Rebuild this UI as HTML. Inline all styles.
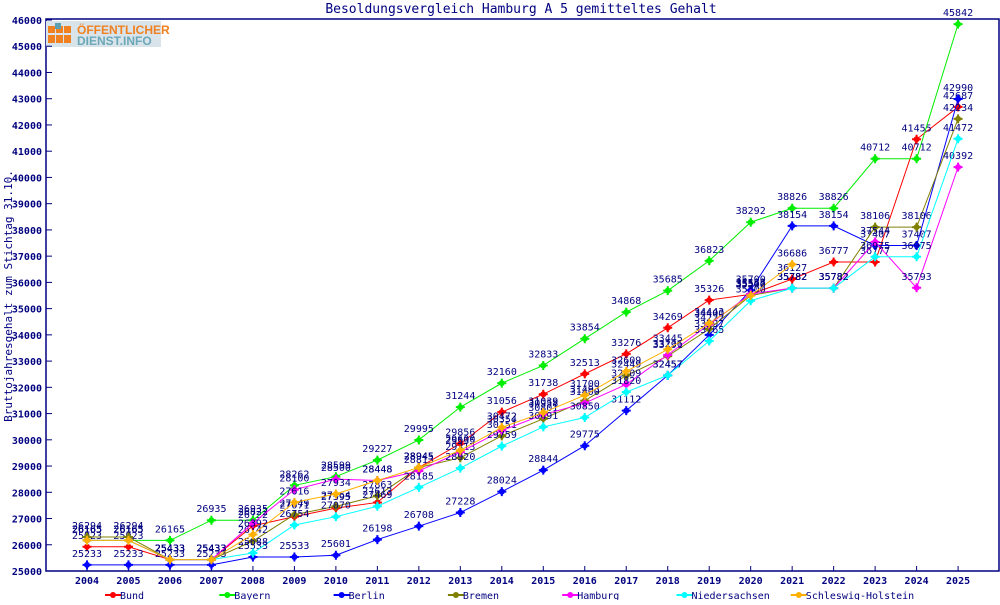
<!DOCTYPE html>
<html><head><meta charset="utf-8"><style>
body{margin:0;background:#fff;width:1000px;height:600px;overflow:hidden}
svg text{font-family:"DejaVu Sans Mono","Liberation Mono",monospace;fill:#000080}
</style></head><body>
<svg id="s" width="1000" height="600" xmlns="http://www.w3.org/2000/svg">
<text x="521" y="13" font-size="13" text-anchor="middle">Besoldungsvergleich Hamburg A 5 gemitteltes Gehalt</text>
<text transform="translate(12,296) rotate(-90)" font-size="11" text-anchor="middle">Bruttojahresgehalt zum Stichtag 31.10.</text>
<rect x="46" y="19" width="953" height="552" fill="none" stroke="#000080" stroke-width="1.5"/>
<g id="logo">
<rect x="46" y="21" width="115" height="26" fill="#d9e3ea"/>
<rect x="48" y="26" width="7" height="7" fill="#f08020"/><rect x="56" y="26" width="7" height="7" fill="#f08020"/><rect x="64" y="26" width="7" height="7" fill="#f08020"/>
<rect x="48" y="35" width="7" height="8" fill="#f08020"/><rect x="56" y="35" width="7" height="8" fill="#f08020"/><rect x="64" y="35" width="7" height="8" fill="#f08020"/>
<rect x="55" y="23" width="6" height="6" fill="#5aa0b0"/>
<text x="77" y="34" font-size="12" font-weight="bold" style="fill:#f08020;font-family:'Liberation Sans',sans-serif">ÖFFENTLICHER</text>
<text x="77" y="45" font-size="12" font-weight="bold" style="fill:#6aa8b8;font-family:'Liberation Sans',sans-serif">DIENST.INFO</text>
</g>
<g id="g"></g>
</svg>
<script>
var ns="http://www.w3.org/2000/svg",g=document.getElementById('g');
function el(t,a,txt){var e=document.createElementNS(ns,t);for(var k in a)e.setAttribute(k,a[k]);if(txt!==undefined)e.textContent=txt;g.appendChild(e);return e;}
function X(i){return 87+i*41.48}
function Y(v){return 571-(v-25000)*551/21000}
for(var v=25000;v<=46000;v+=1000){var y=Y(v);el('line',{x1:46,x2:52,y1:y,y2:y,stroke:'#000080'});el('text',{x:42,y:y+4,'font-size':10,'text-anchor':'end','font-weight':'bold'},v);}
for(var i=0;i<22;i++){var x=X(i);el('line',{x1:x,x2:x,y1:571,y2:566,stroke:'#000080'});el('text',{x:x,y:584,'font-size':10,'text-anchor':'middle','font-weight':'bold'},2004+i);}
var S=[
["Bund","#ff0000",[25923,25923,25433,25433,26722,27071,27395,27613,28945,29856,31056,31738,32513,33276,34269,35326,35544,36127,36777,36777,41455,42687]],
["Bayern","#00ee00",[26165,26165,26165,26935,26935,28262,28599,29227,29995,31244,32160,32833,33854,34868,35685,36823,38292,38826,38826,40712,40712,45842]],
["Berlin","#0000ff",[25233,25233,25233,25233,25533,25533,25601,26198,26708,27228,28024,28844,29775,31112,32457,33997,35700,38154,38154,37407,37407,42990]],
["Bremen","#808000",[26294,26294,25433,25433,26142,27149,27464,27863,28945,29313,30151,30801,31493,32449,33191,34222,35500,35782,35782,38106,38106,42234]],
["Hamburg","#ff00ff",[26165,26165,25433,25433,26822,28100,28500,28448,28813,29535,30354,30958,31400,32109,33236,34400,35555,35782,35782,37544,35793,40392]],
["Niedersachsen","#00ffff",[26165,26165,25433,25433,25688,26754,27070,27469,28185,28920,29759,30491,30850,31820,32457,33765,35300,35782,35782,36975,36975,41472]],
["Schleswig-Holstein","#ffb000",[26165,26165,25433,25433,26392,27616,27934,28448,28945,29600,30472,31039,31700,32609,33445,34443,35500,36686]]];
S.forEach(function(s,k){var d=s[2],p=d.map(function(v,i){return X(i)+','+Y(v)}).join(' ');
el('polyline',{points:p,fill:'none',stroke:s[1],'stroke-width':1});
d.forEach(function(v,i){var x=X(i),y=Y(v);el('circle',{cx:x,cy:y,r:3,fill:s[1]});el('path',{d:'M'+(x-4.5)+' '+y+'h9M'+x+' '+(y-4.5)+'v9',stroke:s[1],'stroke-width':2});});
d.forEach(function(v,i){el('text',{x:X(i),y:Y(v)-8,'font-size':10,'text-anchor':'middle'},v);});
var lx=105+k*114.3;el('line',{x1:lx,x2:lx+16,y1:595,y2:595,stroke:s[1],'stroke-width':2});el('circle',{cx:lx+8,cy:595,r:3,fill:s[1]});
el('text',{x:lx+15,y:599,'font-size':10},s[0]);});
</script>
</body></html>
